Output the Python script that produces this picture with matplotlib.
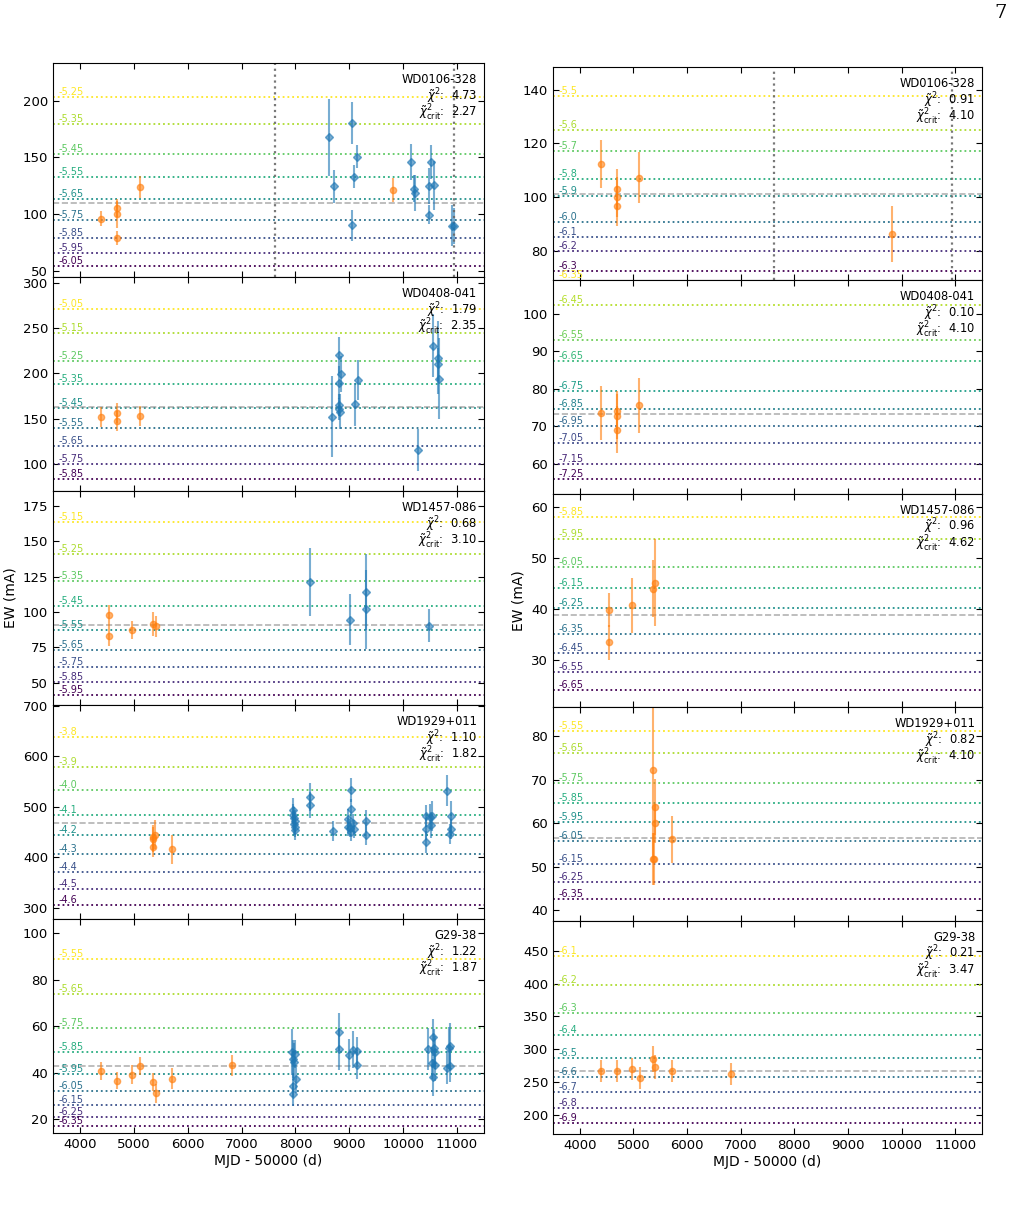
import matplotlib
matplotlib.use("Agg")
import matplotlib.pyplot as plt
import matplotlib.transforms as mtransforms
import numpy as np
from matplotlib.ticker import MultipleLocator

# ---------------------------------------------------------------- data
# left column
L1_NAME, L1_CHI, L1_CRIT = "WD0106-328", "4.73", "2.27"
L1_OR_MJD = [4390, 4687, 4687, 4687, 5108, 9811]
L1_OR_EW = [95.9, 105.3, 100.0, 79.1, 123.8, 121.5]
L1_OR_ERR = [6.5, 8, 12, 6, 10, 10.5]
L1_BL_MJD = [8629, 8722, 9043, 9056, 9093, 9136, 10145, 10207, 10220, 10473, 10479, 10510, 10566, 10900, 10943]
L1_BL_EW = [168, 124.4, 180.6, 90, 133, 150.6, 146.2, 122.6, 118.5, 124.7, 99.4, 145.6, 125.3, 89.7, 89.7]
L1_BL_ERR = [34, 14.7, 18.7, 14, 10, 10, 16, 12, 16, 16, 8.5, 15, 22, 18, 16]
L1_LEVELS = ["-5.25", "-5.35", "-5.45", "-5.55", "-5.65", "-5.75", "-5.85", "-5.95", "-6.05"]
L1_LEVEL_EW = [203.2, 179.4, 153.5, 132.9, 113.5, 94.4, 78.8, 65.3, 54.1]
L1_MEAN = 110.0

L2_NAME, L2_CHI, L2_CRIT = "WD0408-041", "1.79", "2.35"
L2_OR_MJD = [4390, 4687, 4687, 5108]
L2_OR_EW = [151.5, 156.6, 147.8, 152.6]
L2_OR_ERR = [11, 11, 11, 11]
L2_BL_MJD = [8684, 8802, 8802, 8802, 8815, 8827, 8851, 9099, 9161, 10268, 10559, 10646, 10646, 10671]
L2_BL_EW = [152.2, 219.9, 189.7, 165, 160.3, 157.7, 199.3, 165.8, 192.3, 115.1, 230.5, 217.3, 210, 194.1]
L2_BL_ERR = [45, 20, 18, 12, 12, 19, 20, 24, 22, 23, 35, 40, 18, 45]
L2_LEVELS = ["-5.05", "-5.15", "-5.25", "-5.35", "-5.45", "-5.55", "-5.65", "-5.75", "-5.85"]
L2_LEVEL_EW = [271.3, 244.9, 213.6, 188.2, 162.1, 139.3, 119.5, 99.6, 83.1]
L2_MEAN = 162.6

L3_NAME, L3_CHI, L3_CRIT = "WD1457-086", "0.68", "3.10"
L3_OR_MJD = [4538, 4538, 4959, 5355, 5405]
L3_OR_EW = [97.8, 83.2, 87.2, 91.7, 89.8]
L3_OR_ERR = [7.4, 7, 6.5, 8.6, 7.5]
L3_BL_MJD = [8264, 9006, 9303, 9303, 10479]
L3_BL_EW = [120.9, 94.5, 114.1, 101.8, 90.3]
L3_BL_ERR = [24, 18, 27, 28, 11.5]
L3_LEVELS = ["-5.15", "-5.25", "-5.35", "-5.45", "-5.55", "-5.65", "-5.75", "-5.85", "-5.95"]
L3_LEVEL_EW = [163.2, 140.6, 122.1, 104.4, 87.2, 73.1, 60.9, 50.3, 41.4]
L3_MEAN = 91.0

L4_NAME, L4_CHI, L4_CRIT = "WD1929+011", "1.10", "1.82"
L4_OR_MJD = [5350, 5360, 5399, 5355, 5714]
L4_OR_EW = [436, 440, 445, 420.6, 416]
L4_OR_ERR = [25, 25, 28, 20, 28]
L4_BL_MJD = [7950, 7960, 7970, 7975, 7985, 7990, 8000, 8264, 8264, 8697,
             9031, 9031, 8981, 8981, 9010, 9040, 9087, 9075, 9303, 9303,
             10423, 10423, 10423, 10498, 10510, 10535, 10819, 10881, 10881, 10870]
L4_BL_EW = [493, 484, 477, 466, 460, 455, 472, 520, 503.6, 452.9,
            533.3, 495.7, 476.6, 460.8, 457.5, 450.9, 456.2, 467.4, 471.3, 443.7,
            482.5, 455.5, 431.1, 480.5, 464, 481.9, 532, 481.9, 456.8, 445.6]
L4_BL_ERR = [24, 22, 22, 22, 20, 20, 22, 28, 25, 20,
             23, 20, 20, 18, 18, 18, 18, 18, 22, 20,
             22, 22, 22, 25, 25, 30, 30, 30, 20, 20]
L4_LEVELS = ["-3.8", "-3.9", "-4.0", "-4.1", "-4.2", "-4.3", "-4.4", "-4.5", "-4.6"]
L4_LEVEL_EW = [637.4, 579.4, 533.9, 483.2, 443.7, 406.1, 370.5, 337.6, 305.9]
L4_MEAN = 467.4

L5_NAME, L5_CHI, L5_CRIT = "G29-38", "1.22", "1.87"
L5_OR_MJD = [4390, 4687, 4959, 5108, 5356, 5405, 5714, 6816]
L5_OR_EW = [40.8, 36.6, 39.2, 42.8, 35.9, 31.1, 37.3, 43.2]
L5_OR_ERR = [4, 3.5, 4, 4, 4, 4, 4.5, 4.5]
L5_BL_MJD = [7942, 7960, 7975, 7990, 8004, 7955, 7960, 8802, 8802, 8994, 9074, 9149,
             9149, 10454, 10559, 10570, 10597, 10530, 10597, 10545, 10850, 10865, 10820, 10865]
L5_BL_EW = [48.8, 45.9, 44.8, 48.0, 37.2, 34.4, 30.7, 57.5, 50.1, 47.7, 49.9, 49.4,
            43.1, 50.1, 55.2, 50.6, 48.7, 44.1, 43.4, 38.0, 50.6, 51.6, 42.2, 42.8]
L5_BL_ERR = [10, 8, 8, 6, 6, 5, 5, 8, 9, 7, 8, 6,
             6, 9, 8, 8, 7, 7, 7, 8, 9, 10, 7, 7]
L5_LEVELS = ["-5.55", "-5.65", "-5.75", "-5.85", "-5.95", "-6.05", "-6.15", "-6.25", "-6.35"]
L5_LEVEL_EW = [89.05, 73.8, 59.4, 48.7, 39.6, 32.3, 26.1, 21.0, 17.0]
L5_MEAN = 42.9

# right column
R1_NAME, R1_CHI, R1_CRIT = "WD0106-328", "0.91", "4.10"
R1_OR_MJD = [4391, 4689, 4689, 4689, 5111, 9816]
R1_OR_EW = [112.3, 103.1, 100.0, 96.7, 107.3, 86.3]
R1_OR_ERR = [8.8, 7.5, 7.5, 7.5, 9.5, 10.3]
R1_LEVELS = ["-5.5", "-5.6", "-5.7", "-5.8", "-5.9", "-6.0", "-6.1", "-6.2", "-6.3"]
R1_LEVEL_EW = [137.7, 125.1, 117.3, 106.7, 100.5, 90.9, 85.3, 79.9, 72.6]
R1_MEAN = 101.1

R2_NAME, R2_CHI, R2_CRIT = "WD0408-041", "0.10", "4.10"
R2_OR_MJD = [4391, 4689, 4689, 4689, 5111]
R2_OR_EW = [73.5, 74.0, 72.6, 69.1, 75.6]
R2_OR_ERR = [7.2, 5.5, 6, 6.2, 7.3]
R2_LEVELS = ["-6.35", "-6.45", "-6.55", "-6.65", "-6.75", "-6.85", "-6.95", "-7.05", "-7.15", "-7.25"]
R2_LEVEL_EW = [109.15, 102.3, 93.0, 87.3, 79.4, 74.6, 70.0, 65.4, 59.9, 55.8]
R2_MEAN = 73.2

R3_NAME, R3_CHI, R3_CRIT = "WD1457-086", "0.96", "4.62"
R3_OR_MJD = [4540, 4540, 4968, 5359, 5409]
R3_OR_EW = [39.8, 33.4, 40.7, 44.0, 45.2]
R3_OR_ERR = [3.4, 3.4, 5.4, 5.6, 8.6]
R3_LEVELS = ["-5.85", "-5.95", "-6.05", "-6.15", "-6.25", "-6.35", "-6.45", "-6.55", "-6.65"]
R3_LEVEL_EW = [58.2, 53.7, 48.3, 44.2, 40.2, 35.05, 31.2, 27.6, 23.95]
R3_MEAN = 38.7

R4_NAME, R4_CHI, R4_CRIT = "WD1929+011", "0.82", "4.10"
R4_OR_MJD = [5359, 5409, 5399, 5365, 5375, 5720]
R4_OR_EW = [72.3, 63.7, 60.0, 51.8, 51.7, 56.3]
R4_OR_ERR = [20, 6.5, 4.5, 6, 6, 5.4]
R4_LEVELS = ["-5.55", "-5.65", "-5.75", "-5.85", "-5.95", "-6.05", "-6.15", "-6.25", "-6.35"]
R4_LEVEL_EW = [81.2, 76.1, 69.3, 64.7, 60.2, 56.0, 50.7, 46.5, 42.6]
R4_MEAN = 56.7

R5_NAME, R5_CHI, R5_CRIT = "G29-38", "0.21", "3.47"
R5_OR_MJD = [4397, 4695, 4968, 5117, 5359, 5409, 5719, 6824]
R5_OR_EW = [266.7, 267.2, 269.8, 255.5, 285.5, 272.8, 266.2, 261.6]
R5_OR_ERR = [17, 17, 17, 17, 20, 18, 17, 17]
R5_LEVELS = ["-6.1", "-6.2", "-6.3", "-6.4", "-6.5", "-6.6", "-6.7", "-6.8", "-6.9"]
R5_LEVEL_EW = [442.9, 397.6, 355.3, 322.2, 286.0, 257.0, 234.6, 210.7, 187.8]
R5_MEAN = 267.2

VLINE_MJD = [7620, 10945]
XTICKS = [4000, 5000, 6000, 7000, 8000, 9000, 10000, 11000]

# ---------------------------------------------------------------- layout
W, H = 1015, 1205
LEFT_YLIM = [(44.5, 233.4), (70.2, 306.3), (34.3, 185.4), (278.3, 701.3), (14.0, 106.2)]
RIGHT_YLIM = [(69.1, 148.4), (51.9, 109.0), (20.6, 62.7), (37.6, 86.7), (170.5, 496.3)]
LEFT_YSTEP = [50, 50, 25, 100, 20]
RIGHT_YSTEP = [20, 10, 10, 10, 50]


def draw_panel(ax, name, chi, crit, levels, level_ew, mean,
               or_mjd, or_ew, or_err, bl_mjd=None, bl_ew=None, bl_err=None):
    trans = mtransforms.blended_transform_factory(ax.transAxes, ax.transData)
    colors = plt.cm.viridis(np.linspace(1, 0, len(levels)))
    for lab, ew, c in zip(levels, level_ew, colors):
        ax.axhline(ew, color=c, ls=":", lw=1.3)
        ax.text(0.012, ew, lab, transform=trans, color=c, fontsize=7,
                ha="left", va="bottom")
    ax.axhline(mean, color="gray", ls="--", lw=1.2, alpha=0.6)

    ax.errorbar(or_mjd, or_ew, yerr=or_err, fmt="o", ms=4.5, color="tab:orange",
                alpha=0.6, elinewidth=1.5, capsize=0)
    if bl_mjd is not None:
        ax.errorbar(bl_mjd, bl_ew, yerr=bl_err, fmt="D", ms=4.5, color="tab:blue",
                    alpha=0.6, elinewidth=1.5, capsize=0)

    # star name and reduced chi^2 block, top right
    lines = [name, r"$\tilde{\chi}^2$:  " + chi, r"$\tilde{\chi}^2_{\rm crit}$:  " + crit]
    for k, s in enumerate(lines):
        ax.annotate(s, xy=(0.984, 1.0), xycoords="axes fraction",
                    xytext=(0, -14.4 - 12.2 * k), textcoords="offset points",
                    ha="right", va="baseline", fontsize=8.3)


def main():
    fig = plt.figure(figsize=(W / 100, H / 100), dpi=100)

    left_panels = [
        (L1_NAME, L1_CHI, L1_CRIT, L1_LEVELS, L1_LEVEL_EW, L1_MEAN, L1_OR_MJD, L1_OR_EW, L1_OR_ERR, L1_BL_MJD, L1_BL_EW, L1_BL_ERR),
        (L2_NAME, L2_CHI, L2_CRIT, L2_LEVELS, L2_LEVEL_EW, L2_MEAN, L2_OR_MJD, L2_OR_EW, L2_OR_ERR, L2_BL_MJD, L2_BL_EW, L2_BL_ERR),
        (L3_NAME, L3_CHI, L3_CRIT, L3_LEVELS, L3_LEVEL_EW, L3_MEAN, L3_OR_MJD, L3_OR_EW, L3_OR_ERR, L3_BL_MJD, L3_BL_EW, L3_BL_ERR),
        (L4_NAME, L4_CHI, L4_CRIT, L4_LEVELS, L4_LEVEL_EW, L4_MEAN, L4_OR_MJD, L4_OR_EW, L4_OR_ERR, L4_BL_MJD, L4_BL_EW, L4_BL_ERR),
        (L5_NAME, L5_CHI, L5_CRIT, L5_LEVELS, L5_LEVEL_EW, L5_MEAN, L5_OR_MJD, L5_OR_EW, L5_OR_ERR, L5_BL_MJD, L5_BL_EW, L5_BL_ERR),
    ]
    right_panels = [
        (R1_NAME, R1_CHI, R1_CRIT, R1_LEVELS, R1_LEVEL_EW, R1_MEAN, R1_OR_MJD, R1_OR_EW, R1_OR_ERR),
        (R2_NAME, R2_CHI, R2_CRIT, R2_LEVELS, R2_LEVEL_EW, R2_MEAN, R2_OR_MJD, R2_OR_EW, R2_OR_ERR),
        (R3_NAME, R3_CHI, R3_CRIT, R3_LEVELS, R3_LEVEL_EW, R3_MEAN, R3_OR_MJD, R3_OR_EW, R3_OR_ERR),
        (R4_NAME, R4_CHI, R4_CRIT, R4_LEVELS, R4_LEVEL_EW, R4_MEAN, R4_OR_MJD, R4_OR_EW, R4_OR_ERR),
        (R5_NAME, R5_CHI, R5_CRIT, R5_LEVELS, R5_LEVEL_EW, R5_MEAN, R5_OR_MJD, R5_OR_EW, R5_OR_ERR),
    ]

    columns = [
        (53, 484, 63.0, 214.0, left_panels, LEFT_YLIM, LEFT_YSTEP),
        (553, 982, 67.0, 213.4, right_panels, RIGHT_YLIM, RIGHT_YSTEP),
    ]

    for x0, x1, top, rowh, panels, ylims, ysteps in columns:
        for i, args in enumerate(panels):
            y_top = top + i * rowh
            rect = [x0 / W, 1 - (y_top + rowh) / H, (x1 - x0) / W, rowh / H]
            ax = fig.add_axes(rect)
            draw_panel(ax, *args)
            if i == 0:
                for v in VLINE_MJD:
                    ax.axvline(v, color="dimgray", ls=":", lw=1.6, alpha=0.9)
            ax.set_xlim(3500, 11500)
            ax.set_ylim(*ylims[i])
            ax.set_xticks(XTICKS)
            ax.yaxis.set_major_locator(MultipleLocator(ysteps[i]))
            ax.tick_params(direction="in", top=True, right=True, length=4,
                           labelsize=9.5, labelbottom=(i == 4))
            if i == 2:
                ax.set_ylabel("EW (mA)", fontsize=10)
            if i == 4:
                ax.set_xlabel("MJD - 50000 (d)", fontsize=10, labelpad=2)

    fig.text(1001 / W, 1 - 13 / H, "7", fontsize=14, family="serif",
             ha="center", va="center")

    fig.savefig("out.png", dpi=100)
    plt.close(fig)


if __name__ == "__main__":
    main()
